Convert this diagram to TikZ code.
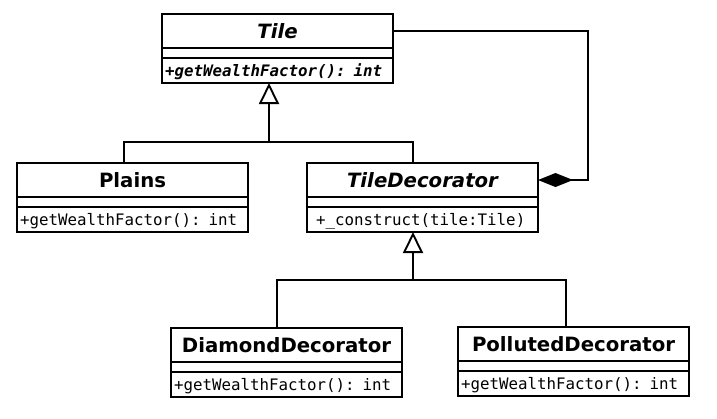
\documentclass[tikz,border=0pt]{standalone}
\usepackage{fontspec}
\setsansfont{DejaVu Sans}
\setmonofont{DejaVu Sans Mono}
\usetikzlibrary{arrows.meta}
\tikzset{
 uml/.style={draw, line width=1.9bp, minimum width=231bp, inner sep=0pt, outer sep=0pt, anchor=north west},
 cname/.style={uml, minimum height=34bp, text height=14bp, text depth=0bp, font=\fontsize{19.7bp}{22bp}\selectfont\sffamily\bfseries},
 cattr/.style={uml, minimum height=10bp},
 cmeth/.style={uml, minimum height=25bp, text width=225bp, align=left, inner xsep=3bp, text height=11.4bp, text depth=0bp, font=\fontsize{15.8bp}{18bp}\selectfont\ttfamily},
 link/.style={line width=1.9bp},
 gen/.style={link, -{Triangle[open, length=21bp, width=20bp, fill=white]}},
 comp/.style={link, {Diamond[length=35bp, width=14bp]}-},
}
\begin{document}
\begin{tikzpicture}[x=1bp,y=-1bp]
\useasboundingbox[fill=white] (0,0) rectangle (717,418);
% Tile
\node[cname] (tile) at (162,14) {\itshape Tile};
\node[cattr] (tilea) at (tile.south west) {};
\node[cmeth] (tilem) at (tilea.south west) {\bfseries\itshape +getWealthFactor(): int};
% Plains
\node[cname] (plains) at (17,163) {Plains};
\node[cattr] (plainsa) at (plains.south west) {};
\node[cmeth] (plainsm) at (plainsa.south west) {+getWealthFactor(): int};
% TileDecorator
\node[cname] (td) at (307,163) {\itshape TileDecorator};
\node[cattr] (tda) at (td.south west) {};
\node[cmeth] (tdm) at (tda.south west) {\hspace*{6bp}+\_construct(tile:Tile)};
% DiamondDecorator
\node[cname] (dd) at (171,328) {DiamondDecorator};
\node[cattr] (dda) at (dd.south west) {};
\node[cmeth] (ddm) at (dda.south west) {+getWealthFactor(): int};
% PollutedDecorator
\node[cname] (pd) at (458,327) {PollutedDecorator};
\node[cattr] (pda) at (pd.south west) {};
\node[cmeth] (pdm) at (pda.south west) {+getWealthFactor(): int};
% generalization to Tile
\coordinate (j1) at (269,142);
\draw[link] ([xshift=-8.5bp]plains.north) |- (j1) -| ([xshift=-9.5bp]td.north);
\draw[gen] (j1) -- ([xshift=-8.5bp]tilem.south);
% generalization to TileDecorator
\coordinate (j2) at (413,280);
\draw[link] ([xshift=-9.5bp]dd.north) |- (j2) -| ([xshift=-7.5bp]pd.north);
\draw[gen] (j2) -- ([xshift=-9.5bp]tdm.south);
% composition
\coordinate (c1) at (588,31);
\draw[comp] (td.east) -| (c1) -- (tile.east);
\end{tikzpicture}
\end{document}
